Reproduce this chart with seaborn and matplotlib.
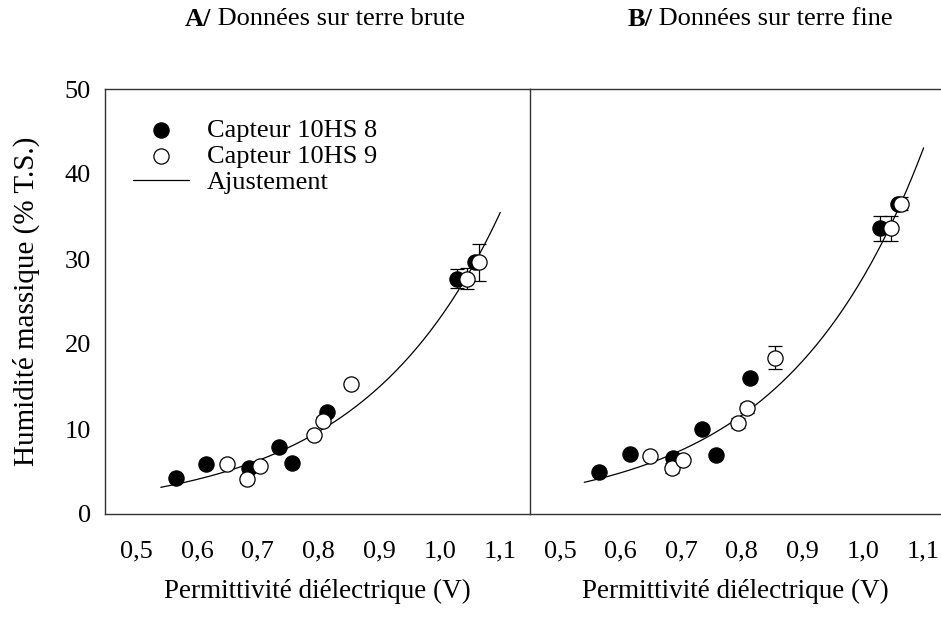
import numpy as np
import pandas as pd
import matplotlib
matplotlib.use("Agg")
import matplotlib.pyplot as plt
import seaborn as sns

sns.set_theme(style="white")
plt.rcParams['font.family'] = ['Liberation Serif', 'DejaVu Serif']
plt.rcParams['text.color'] = 'black'
plt.rcParams['axes.labelcolor'] = 'black'
plt.rcParams['xtick.color'] = 'black'
plt.rcParams['ytick.color'] = 'black'

# ---- Data ----
# Panel A : terre brute
a_x8 = [0.565, 0.615, 0.686, 0.735, 0.757, 0.814, 1.029, 1.059]
a_y8 = [4.2, 5.9, 5.4, 7.85, 6.0, 12.0, 27.7, 29.6]
a_e8 = [0, 0, 0, 0, 0, 0, 1.1, 0]
a_x9 = [0.649, 0.682, 0.703, 0.792, 0.808, 0.854, 1.045, 1.065]
a_y9 = [5.9, 4.1, 5.6, 9.25, 11.0, 15.3, 27.7, 29.6]
a_e9 = [0, 0.4, 0, 0, 0.4, 0, 1.2, 2.2]
a_fit = (0.303, 4.33)  # y = a * exp(b * x)

# Panel B : terre fine
b_x8 = [0.564, 0.615, 0.687, 0.735, 0.757, 0.814, 1.028, 1.057]
b_y8 = [4.9, 7.1, 6.55, 10.0, 7.0, 16.0, 33.6, 36.5]
b_e8 = [0, 0, 0, 0, 0, 0, 1.5, 0]
b_x9 = [0.649, 0.684, 0.703, 0.793, 0.809, 0.855, 1.046, 1.063]
b_y9 = [6.8, 5.4, 6.35, 10.7, 12.5, 18.4, 33.6, 36.5]
b_e9 = [0, 0.6, 0, 0.6, 0.6, 1.35, 1.5, 0.75]
b_fit = (0.352, 4.37)

fit_range = (0.54, 1.1)
xticks = [0.5, 0.6, 0.7, 0.8, 0.9, 1.0, 1.1]
xtick_labels = ["0,5", "0,6", "0,7", "0,8", "0,9", "1,0", "1,1"]
yticks = [0, 10, 20, 30, 40, 50]

titles = ["A/", "B/"]
subtitles = [" Données sur terre brute", " Données sur terre fine"]
xlabel = "Permittivité diélectrique (V)"
ylabel = "Humidité massique (% T.S.)"
labels = ["Capteur 10HS 8", "Capteur 10HS 9", "Ajustement"]

W, H = 941, 617
fig = plt.figure(figsize=(W / 100, H / 100), dpi=100)
axA = fig.add_axes([105 / W, 1 - 514 / H, (530 - 105) / W, (514 - 89) / H])
axB = fig.add_axes([530 / W, 1 - 514 / H, (941 - 530) / W, (514 - 89) / H])

panels = [
    (axA, a_x8, a_y8, a_e8, a_x9, a_y9, a_e9, a_fit, (0.448, 1.149)),
    (axB, b_x8, b_y8, b_e8, b_x9, b_y9, b_e9, b_fit, (0.4505, 1.1287)),
]

FS = 19
for i, (ax, x8, y8, e8, x9, y9, e9, fit, xl) in enumerate(panels):
    xs = np.linspace(fit_range[0], fit_range[1], 200)
    fit_df = pd.DataFrame({"x": xs, "y": fit[0] * np.exp(fit[1] * xs)})
    sns.lineplot(data=fit_df, x="x", y="y", ax=ax, color="black", lw=0.9,
                 label=labels[2], zorder=2)

    d8 = pd.DataFrame({"x": x8, "y": y8, "e": e8})
    d9 = pd.DataFrame({"x": x9, "y": y9, "e": e9})
    for d in (d8, d9):
        m = d["e"] > 0
        ax.errorbar(d.loc[m, "x"], d.loc[m, "y"], yerr=d.loc[m, "e"], fmt="none",
                    ecolor="black", elinewidth=0.9, capsize=5, capthick=0.9, zorder=3)
    sns.scatterplot(data=d8, x="x", y="y", ax=ax, color="black", edgecolor="black",
                    s=120, linewidth=0.9, label=labels[0], zorder=4)
    sns.scatterplot(data=d9, x="x", y="y", ax=ax, facecolor="white", edgecolor="black",
                    s=120, linewidth=0.9, label=labels[1], zorder=5)

    ax.set_xlim(*xl)
    ax.set_ylim(0, 50)
    ax.set_xticks(xticks)
    ax.set_xticklabels(xtick_labels, fontsize=FS)
    ax.set_yticks(yticks)
    ax.tick_params(axis="x", direction="out", length=6, width=0.8, pad=13, colors="black")
    ax.tick_params(axis="y", direction="out", length=6, width=0.8, pad=4, colors="black")
    ax.set_xlabel(xlabel, fontsize=19.5, labelpad=12)
    for s in ax.spines.values():
        s.set_color("#333333")
        s.set_linewidth(1.0)
    ax.get_legend().remove()

axA.set_yticklabels([str(v) for v in yticks], fontsize=FS)
axA.set_ylabel(ylabel, fontsize=21, labelpad=18)
axA.spines["right"].set_visible(False)
axB.set_ylabel("")
axB.set_yticks([])
axB.spines["right"].set_visible(False)

# titles
fig.canvas.draw()
r = fig.canvas.get_renderer()
for cx, t, st in [(325, titles[0], subtitles[0]), (760, titles[1], subtitles[1])]:
    tb = fig.text(0, 0, t + st, fontsize=FS)
    wtot = tb.get_window_extent(r).width
    tb.remove()
    t1 = fig.text((cx - wtot / 2) / W, 1 - 19 / H, t, fontsize=FS, fontweight="bold",
                  va="center", ha="left")
    w1 = t1.get_window_extent(r).width
    fig.text((cx - wtot / 2 + w1) / W, 1 - 19 / H, st, fontsize=FS, va="center", ha="left")

# legend
h, l = axA.get_legend_handles_labels()
order = [l.index(labels[0]), l.index(labels[1]), l.index(labels[2])]
axA.legend([h[k] for k in order], [l[k] for k in order], loc="upper left",
           bbox_to_anchor=(0.042, 0.955), frameon=False, fontsize=FS,
           handlelength=2.1, handletextpad=0.68, labelspacing=0.1, borderaxespad=0)

fig.savefig("out.png", dpi=100, facecolor="white")
